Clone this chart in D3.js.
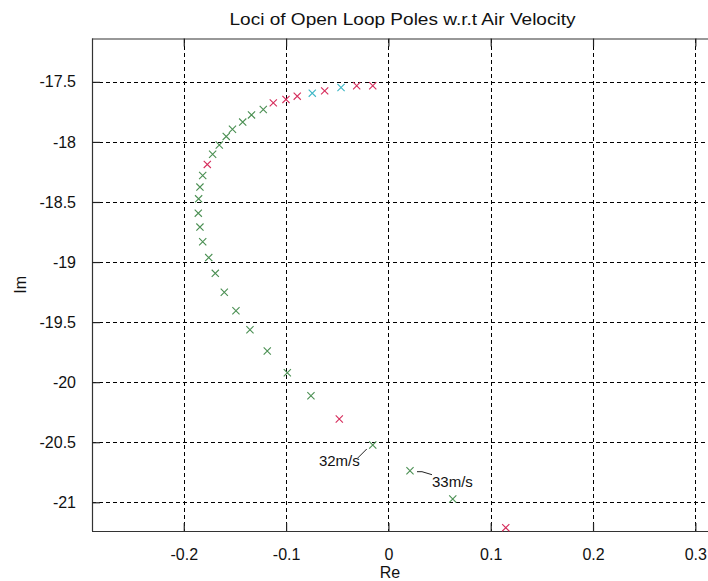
<!DOCTYPE html>
<html>
<head>
<meta charset="utf-8">
<script src="https://cdn.jsdelivr.net/npm/d3@7"></script>
<style>
  html, body { margin: 0; padding: 0; background: #fff; }
  svg { display: block; font-family: "Liberation Sans", Arial, sans-serif; }
</style>
</head>
<body>
<svg id="chart" width="708" height="581"></svg>
<script>
// ---- data ----
const poleRe = [-0.0153, -0.0310, -0.0463, -0.0623, -0.0744, -0.0891, -0.1001, -0.1125,
  -0.1223, -0.1338, -0.1424, -0.1524, -0.1585, -0.1653, -0.1718, -0.1770, -0.1815,
  -0.1842, -0.1855, -0.1858, -0.1842, -0.1815, -0.1756, -0.1692, -0.1604, -0.1490,
  -0.1353, -0.1184, -0.0988, -0.0757, -0.0480, -0.0153, 0.0211, 0.0629, 0.1147];
const poleIm = [-17.533, -17.533, -17.547, -17.575, -17.594, -17.619, -17.646, -17.675,
  -17.730, -17.775, -17.835, -17.895, -17.954, -18.025, -18.102, -18.187, -18.279,
  -18.376, -18.474, -18.593, -18.709, -18.831, -18.963, -19.094, -19.252, -19.406,
  -19.564, -19.741, -19.922, -20.113, -20.307, -20.523, -20.737, -20.973, -21.211];
const poleGroup = ["r", "r", "c", "r", "c", "r", "r", "r",
  "g", "g", "g", "g", "g", "g", "g", "r", "g",
  "g", "g", "g", "g", "g", "g", "g", "g", "g",
  "g", "g", "g", "g", "r", "g", "g", "g", "r"];
const xTicks = [-0.2, -0.1, 0, 0.1, 0.2, 0.3];
const yTicks = [-17.5, -18, -18.5, -19, -19.5, -20, -20.5, -21];
const annotations = [
  { idx: 31, text: "32m/s" },
  { idx: 32, text: "33m/s" }
];
const titleText = "Loci of Open Loop Poles w.r.t Air Velocity";
const xLabel = "Re";
const yLabel = "Im";

// ---- layout / style ----
const colors = { g: "#4a8f52", r: "#d62d5c", c: "#3eb7c6" };
const mLeft = 92, mTop = 38.5, mBottom = 531, mRight = 720;

const x = d3.scaleLinear().domain([-0.2897, 0.3241]).range([mLeft, mRight]);
const y = d3.scaleLinear().domain([-21.239, -17.139]).range([mBottom, mTop]);

const svg = d3.select("#chart");
const fmt = d => String(d); // plain hyphen-minus like MATLAB

// grid
const grid = svg.append("g").attr("stroke", "#000").attr("stroke-width", 1)
  .attr("stroke-dasharray", "4,3").attr("shape-rendering", "crispEdges");
grid.selectAll("line.vx").data(xTicks).join("line")
  .attr("x1", d => Math.round(x(d)) + 0.5).attr("x2", d => Math.round(x(d)) + 0.5)
  .attr("y1", mTop).attr("y2", mBottom);
grid.selectAll("line.hy").data(yTicks).join("line")
  .attr("x1", mLeft).attr("x2", mRight)
  .attr("y1", d => Math.round(y(d)) + 0.5).attr("y2", d => Math.round(y(d)) + 0.5);

// axes (MATLAB-style, ticks inside)
const tickLen = 8;
const xAxisB = d3.axisBottom(x).tickValues(xTicks).tickSize(-tickLen).tickPadding(tickLen + 10)
  .tickFormat(fmt);
const xAxisT = d3.axisTop(x).tickValues(xTicks).tickSize(-tickLen).tickFormat("");
const yAxisL = d3.axisLeft(y).tickValues(yTicks).tickSize(-tickLen).tickPadding(tickLen + 8)
  .tickFormat(fmt);

function styleAxis(g) {
  g.select(".domain").attr("stroke", "#333").attr("stroke-width", 1.2);
  g.selectAll(".tick line").attr("stroke", "#222").attr("stroke-width", 1.2);
  g.selectAll(".tick text").attr("fill", "#111").attr("font-size", "16px")
    .attr("font-family", "\"Liberation Sans\", Arial, sans-serif");
}
svg.append("g").attr("transform", `translate(0,${mBottom})`).call(xAxisB).call(styleAxis)
  .call(g => g.select(".domain").attr("d", `M${mLeft},0.5H${mRight}`));
svg.append("g").attr("transform", `translate(0,${mTop})`).call(xAxisT).call(styleAxis)
  .call(g => g.select(".domain").attr("d", `M${mLeft},0.5H${mRight}`));
svg.append("g").attr("transform", `translate(${mLeft},0)`).call(yAxisL).call(styleAxis)
  .call(g => g.select(".domain").attr("d", `M0.5,${mTop}V${mBottom}`));

// markers
const s = 3.6;
const poles = poleRe.map((re, i) => ({ re, im: poleIm[i], grp: poleGroup[i] }));
svg.append("g").selectAll("path").data(poles).join("path")
  .attr("transform", d => `translate(${x(d.re)},${y(d.im)})`)
  .attr("d", `M${-s},${-s}L${s},${s}M${-s},${s}L${s},${-s}`)
  .attr("fill", "none").attr("stroke", d => colors[d.grp]).attr("stroke-width", 1.1);

// annotations
const ann = svg.append("g").attr("font-size", "15px").attr("fill", "#111");
{
  const p = poles[annotations[0].idx];
  const px = x(p.re), py = y(p.im);
  ann.append("line").attr("x1", px - 6).attr("y1", py + 4).attr("x2", px - 15).attr("y2", py + 13)
    .attr("stroke", "#222");
  ann.append("text").attr("x", px - 13).attr("y", py + 21).attr("text-anchor", "end")
    .text(annotations[0].text);
}
{
  const p = poles[annotations[1].idx];
  const px = x(p.re), py = y(p.im);
  ann.append("path").attr("d", `M${px + 7},${py + 1}L${px + 12},${py + 1}L${px + 22},${py + 4}`)
    .attr("fill", "none").attr("stroke", "#222");
  ann.append("text").attr("x", px + 22).attr("y", py + 16).attr("text-anchor", "start")
    .text(annotations[1].text);
}

// title and labels
svg.append("text").attr("x", 402.5).attr("y", 25).attr("text-anchor", "middle")
  .attr("font-size", "17px").attr("fill", "#111")
  .attr("textLength", 346).attr("lengthAdjust", "spacingAndGlyphs")
  .text(titleText);
svg.append("text").attr("x", 390).attr("y", 578).attr("text-anchor", "middle")
  .attr("font-size", "16px").attr("fill", "#111").text(xLabel);
svg.append("text").attr("transform", `translate(26,${(mTop + mBottom) / 2}) rotate(-90)`)
  .attr("text-anchor", "middle").attr("font-size", "16px").attr("fill", "#111").text(yLabel);
</script>
</body>
</html>
